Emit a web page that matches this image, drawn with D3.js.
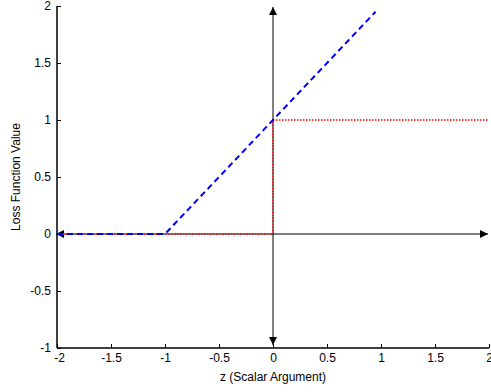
<!DOCTYPE html>
<html>
<head>
<meta charset="utf-8">
<script src="https://cdn.jsdelivr.net/npm/d3@7"></script>
<style>
  body { margin: 0; background: #fff; }
  text { font-family: "Liberation Sans", Arial, sans-serif; font-size: 12px; fill: #000; }
</style>
</head>
<body>
<script>
// data
var xTicks = [-2, -1.5, -1, -0.5, 0, 0.5, 1, 1.5, 2];
var yTicks = [-1, -0.5, 0, 0.5, 1, 1.5, 2];
var hingeZ = [-2, -1, 0.95];
var hingeLoss = [0, 0, 1.95];
var zeroOneZ = [-2, 0, 0, 2];
var zeroOneLoss = [0, 0, 1, 1];

var W = 491, H = 392;
var margin = {top: 6, right: 2, bottom: 44, left: 57};

var svg = d3.select("body").append("svg")
    .attr("width", W)
    .attr("height", H);

var x = d3.scaleLinear().domain([-2, 2]).range([margin.left, W - margin.right]);
var y = d3.scaleLinear().domain([-1, 2]).range([H - margin.bottom, margin.top]);

// plain hyphen minus like the original
var fmt = function(d) { return String(d); };

// arrow markers
var defs = svg.append("defs");
defs.append("marker")
    .attr("id", "arrow")
    .attr("viewBox", "0 0 10 10")
    .attr("refX", 10).attr("refY", 5)
    .attr("markerWidth", 8).attr("markerHeight", 8)
    .attr("markerUnits", "userSpaceOnUse")
    .attr("orient", "auto-start-reverse")
  .append("path")
    .attr("d", "M0,0 L10,5 L0,10 Z")
    .attr("fill", "#000");

// left axis
var yAxis = svg.append("g")
    .attr("transform", "translate(" + margin.left + ",0)")
    .call(d3.axisLeft(y).tickValues(yTicks).tickSize(-4).tickPadding(6).tickFormat(fmt));

// bottom axis
var xAxis = svg.append("g")
    .attr("transform", "translate(0," + (H - margin.bottom) + ")")
    .call(d3.axisBottom(x).tickValues(xTicks).tickSize(-4).tickPadding(5).tickFormat(fmt));

[yAxis, xAxis].forEach(function(a) {
  a.select(".domain").attr("stroke", "#000").attr("stroke-width", 1.5)
    .attr("d", a === yAxis
      ? "M0," + y(2) + "V" + y(-1)
      : "M" + x(-2) + ",0H" + x(2));
  a.selectAll(".tick line").attr("stroke", "#000");
  a.selectAll("text").style("font-size", "12px");
});
xAxis.select(".tick:first-of-type text").attr("transform", "translate(2,0)");

// arrowed axes through origin
svg.append("line")
    .attr("x1", x(-2) - 1).attr("x2", x(2) - 1)
    .attr("y1", y(0)).attr("y2", y(0))
    .attr("stroke", "#000").attr("stroke-width", 1)
    .attr("marker-start", "url(#arrow)")
    .attr("marker-end", "url(#arrow)");

svg.append("line")
    .attr("x1", x(0)).attr("x2", x(0))
    .attr("y1", y(2) + 1).attr("y2", y(-1) - 3)
    .attr("stroke", "#000").attr("stroke-width", 1)
    .attr("marker-start", "url(#arrow)")
    .attr("marker-end", "url(#arrow)");

var line = d3.line()
    .x(function(d) { return x(d[0]); })
    .y(function(d) { return y(d[1]); });

// 0-1 loss
svg.append("path")
    .datum(d3.zip(zeroOneZ, zeroOneLoss))
    .attr("fill", "none")
    .attr("stroke", "#ff0000")
    .attr("stroke-width", 1.5)
    .attr("stroke-dasharray", "1.5,1.5")
    .attr("d", line);

// hinge loss
svg.append("path")
    .datum(d3.zip(hingeZ, hingeLoss))
    .attr("fill", "none")
    .attr("stroke", "#0000ff")
    .attr("stroke-width", 2)
    .attr("stroke-dasharray", "6,4")
    .attr("d", line);

// axis labels
svg.append("text")
    .attr("x", x(0))
    .attr("y", 381)
    .attr("text-anchor", "middle")
    .text("z (Scalar Argument)");

svg.append("text")
    .attr("transform", "translate(20," + y(0.5) + ") rotate(-90)")
    .attr("text-anchor", "middle")
    .text("Loss Function Value");
</script>
</body>
</html>
